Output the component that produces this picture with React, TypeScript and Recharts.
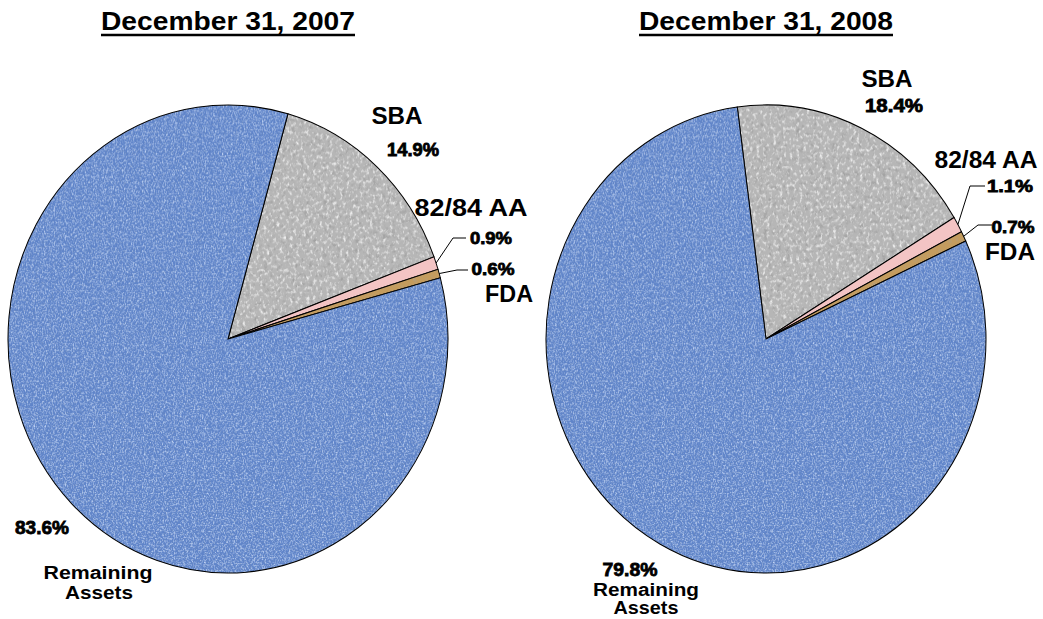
import React from 'react';
import { PieChart, Pie, Cell } from 'recharts';

// ---------- data ----------
const SLICE_NAMES = ['SBA', '82/84 AA', 'FDA', 'Remaining Assets'];
const VALUES_2007 = [14.9, 0.9, 0.6, 83.6];
const VALUES_2008 = [18.4, 1.1, 0.7, 79.8];
const TITLES = ['December 31, 2007', 'December 31, 2008'];

const data2007 = SLICE_NAMES.map((name, i) => ({ name, value: VALUES_2007[i] }));
const data2008 = SLICE_NAMES.map((name, i) => ({ name, value: VALUES_2008[i] }));

// ---------- style ----------
const W = 1043;
const H = 619;
const FONT = '"Liberation Sans", Arial, Helvetica, sans-serif';
const RX = 220;
const RY = 234;
const K = RY / RX;
const CY = 339;
const FILLS = ['url(#greyTex)', 'url(#pinkTex)', 'url(#tanTex)', 'url(#blueTex)'];

type TextSpec = { dx: number; dy: number; w: number; size: number; bold?: boolean };
type LabelSpec = {
  names: TextSpec[];
  pct: TextSpec;
  leader?: [number, number, number];
};

const LAYOUT_2007: LabelSpec[] = [
  { names: [{ dx: 169, dy: -215, w: 51, size: 24, bold: true }], pct: { dx: 185, dy: -183, w: 52, size: 18 } },
  {
    names: [{ dx: 243, dy: -123, w: 113, size: 24 }],
    pct: { dx: 263, dy: -95, w: 42, size: 17 },
    leader: [225, -101, 238],
  },
  {
    names: [{ dx: 281, dy: -37, w: 48, size: 24 }],
    pct: { dx: 265, dy: -64, w: 43, size: 17 },
    leader: [229, -69, 240],
  },
  {
    names: [
      { dx: -130, dy: 240, w: 109, size: 18 },
      { dx: -129, dy: 260, w: 68, size: 18 },
    ],
    pct: { dx: -186, dy: 195, w: 54, size: 19 },
  },
];

const LAYOUT_2008: LabelSpec[] = [
  { names: [{ dx: 121, dy: -252, w: 51, size: 24, bold: true }], pct: { dx: 128, dy: -227, w: 58, size: 18 } },
  {
    names: [{ dx: 220, dy: -171, w: 103, size: 24 }],
    pct: { dx: 244, dy: -147, w: 46, size: 17 },
    leader: [204, -153, 219],
  },
  {
    names: [{ dx: 244, dy: -79, w: 50, size: 24 }],
    pct: { dx: 247, dy: -106, w: 43, size: 17 },
    leader: [212, -114, 226],
  },
  {
    names: [
      { dx: -120, dy: 257, w: 106, size: 18 },
      { dx: -120, dy: 275, w: 65, size: 18 },
    ],
    pct: { dx: -136, dy: 237, w: 55, size: 19 },
  },
];

function nameLines(name: string, count: number): string[] {
  if (count === 1) return [name];
  return name.split(' ');
}

function makeLabel(layout: LabelSpec[], values: number[]) {
  return (p: any) => {
    const { cx, cy, midAngle, outerRadius, index } = p;
    const L = layout[index];
    const v = values[index];
    const rad = (midAngle * Math.PI) / 180;
    const ex = cx + outerRadius * Math.cos(rad);
    const ey = cy - outerRadius * K * Math.sin(rad);
    const lines = nameLines(SLICE_NAMES[index], L.names.length);
    return (
      <g key={`lab-${index}`}>
        {L.leader && (
          <polyline
            points={`${ex},${ey} ${cx + L.leader[0]},${cy + L.leader[1]} ${cx + L.leader[2]},${cy + L.leader[1]}`}
            fill="none"
            stroke="#000"
            strokeWidth={1}
          />
        )}
        {L.names.map((t, i) => (
          <text
            key={i}
            x={cx + t.dx}
            y={cy + t.dy}
            textAnchor="middle"
            fontFamily={FONT}
            fontSize={t.size}
            fontWeight="bold"
            fill="#000"
            textLength={t.w}
            lengthAdjust="spacingAndGlyphs"
          >
            {lines[i]}
          </text>
        ))}
        <text
          x={cx + L.pct.dx}
          y={cy + L.pct.dy}
          textAnchor="middle"
          fontFamily={FONT}
          fontSize={L.pct.size}
          fontWeight="bold"
          fill="#000"
          stroke="#000"
          strokeWidth={0.8}
          textLength={L.pct.w}
          lengthAdjust="spacingAndGlyphs"
        >
          {`${v.toFixed(1)}%`}
        </text>
      </g>
    );
  };
}

const CSS = `
path.recharts-sector { transform-origin: 0px ${CY}px; transform: scaleY(${K}); }
`;

export default function App() {
  return (
    <div style={{ position: 'absolute', left: 0, top: 0, width: W, height: H, background: '#fff' }}>
      <style>{CSS}</style>
      <svg width={0} height={0} style={{ position: 'absolute' }}>
        <defs>
          <filter id="fabricH" x="0" y="0" width="100%" height="100%">
            <feTurbulence type="fractalNoise" baseFrequency="0.45 0.9" numOctaves={2} seed={3} />
            <feColorMatrix type="matrix" values="0 0 0 0 0.72  0 0 0 0 0.82  0 0 0 0 1  2.6 0 0 0 -1.3" />
          </filter>
          <filter id="fabricV" x="0" y="0" width="100%" height="100%">
            <feTurbulence type="fractalNoise" baseFrequency="0.9 0.45" numOctaves={2} seed={7} />
            <feColorMatrix type="matrix" values="0 0 0 0 0.72  0 0 0 0 0.82  0 0 0 0 1  2.6 0 0 0 -1.3" />
          </filter>
          <filter id="fabricDark" x="0" y="0" width="100%" height="100%">
            <feTurbulence type="fractalNoise" baseFrequency="0.5 0.5" numOctaves={2} seed={11} />
            <feColorMatrix type="matrix" values="0 0 0 0 0.15  0 0 0 0 0.25  0 0 0 0 0.5  -2.6 0 0 0 1.2" />
          </filter>
          <filter id="greyNoiseD" x="0" y="0" width="100%" height="100%">
            <feTurbulence type="fractalNoise" baseFrequency="0.22" numOctaves={3} seed={5} />
            <feColorMatrix type="matrix" values="0 0 0 0 0.35  0 0 0 0 0.35  0 0 0 0 0.35  -3 0 0 0 1.4" />
          </filter>
          <filter id="greyNoiseL" x="0" y="0" width="100%" height="100%">
            <feTurbulence type="fractalNoise" baseFrequency="0.3" numOctaves={3} seed={9} />
            <feColorMatrix type="matrix" values="0 0 0 0 1  0 0 0 0 1  0 0 0 0 1  3 0 0 0 -1.55" />
          </filter>
          <pattern id="blueTex" patternUnits="userSpaceOnUse" width={W} height={700}>
            <rect width={W} height={700} fill="#5f84c9" />
            <rect width={W} height={700} filter="url(#fabricDark)" />
            <rect width={W} height={700} filter="url(#fabricH)" opacity={0.7} />
            <rect width={W} height={700} filter="url(#fabricV)" opacity={0.7} />
          </pattern>
          <pattern id="greyTex" patternUnits="userSpaceOnUse" width={W} height={700}>
            <rect width={W} height={700} fill="#b6b6b6" />
            <rect width={W} height={700} filter="url(#greyNoiseD)" />
            <rect width={W} height={700} filter="url(#greyNoiseL)" opacity={0.8} />
          </pattern>
          <pattern id="pinkTex" patternUnits="userSpaceOnUse" width={W} height={700}>
            <rect width={W} height={700} fill="#f3c4c4" />
          </pattern>
          <pattern id="tanTex" patternUnits="userSpaceOnUse" width={W} height={700}>
            <rect width={W} height={700} fill="#c49c5e" />
            <rect width={W} height={700} filter="url(#greyNoiseD)" opacity={0.4} />
          </pattern>
        </defs>
      </svg>
      <div style={{ position: 'absolute', left: 0, top: 0 }}>
        <PieChart width={W} height={H} margin={{ top: 0, right: 0, bottom: 0, left: 0 }}>
          <Pie
            data={data2007}
            dataKey="value"
            nameKey="name"
            cx={228}
            cy={CY}
            outerRadius={RX}
            startAngle={74.2}
            endAngle={74.2 - 360}
            stroke="#000"
            strokeWidth={1}
            isAnimationActive={false}
            labelLine={false}
            label={makeLabel(LAYOUT_2007, VALUES_2007)}
          >
            {data2007.map((d, i) => (
              <Cell key={d.name} fill={FILLS[i]} />
            ))}
          </Pie>
          <Pie
            data={data2008}
            dataKey="value"
            nameKey="name"
            cx={766}
            cy={CY}
            outerRadius={RX}
            startAngle={97.5}
            endAngle={97.5 - 360}
            stroke="#000"
            strokeWidth={1}
            isAnimationActive={false}
            labelLine={false}
            label={makeLabel(LAYOUT_2008, VALUES_2008)}
          >
            {data2008.map((d, i) => (
              <Cell key={d.name} fill={FILLS[i]} />
            ))}
          </Pie>
        </PieChart>
      </div>
      <svg width={W} height={50} style={{ position: 'absolute', left: 0, top: 0, pointerEvents: 'none' }}>
        {TITLES.map((t, i) => {
          const cx = i === 0 ? 228 : 766;
          return (
            <g key={t}>
              <text
                x={cx}
                y={30}
                textAnchor="middle"
                fontFamily={FONT}
                fontSize={25}
                fontWeight="bold"
                fill="#000"
                textLength={254}
                lengthAdjust="spacingAndGlyphs"
              >
                {t}
              </text>
              <line x1={cx - 127} x2={cx + 127} y1={35} y2={35} stroke="#000" strokeWidth={2.5} />
            </g>
          );
        })}
      </svg>
    </div>
  );
}
